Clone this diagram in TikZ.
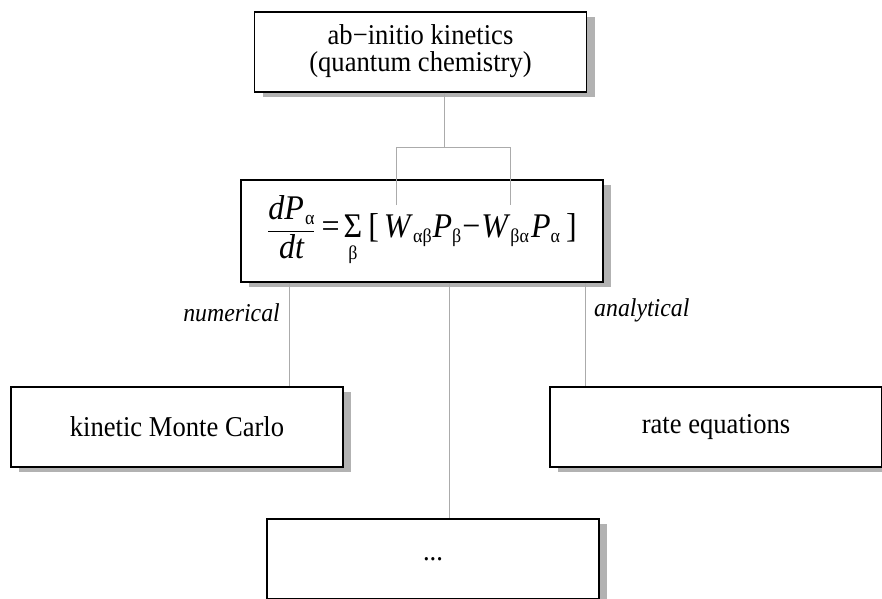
\documentclass[tikz,border=0pt]{standalone}
\usepackage{amsmath}
\usepackage{graphicx}
\usepackage{fontspec}
\setmainfont{Liberation Serif}
\usetikzlibrary{shadows}
\newcommand\vs[1]{\scalebox{1}[1.08]{#1}}
\newcommand\sbs[1]{\raisebox{-4pt}{\fontsize{18}{18}\selectfont\upshape #1}}
\begin{document}
\begin{tikzpicture}[x=1pt,y=-1pt,
  box/.style={draw=black, line width=1.3pt, fill=white, minimum width=332pt, minimum height=80pt, inner sep=0pt,
    font=\fontsize{26.6}{24.5}\selectfont, align=center,
    drop shadow={shadow xshift=8pt, shadow yshift=-5pt, fill=black!30, opacity=1}},
  eqbox/.style={box, line width=2pt, minimum width=362pt, minimum height=102pt, font=\fontsize{32}{32}\selectfont},
  link/.style={draw=black!33, line width=1pt},
  lab/.style={font=\fontsize{23.8}{26}\selectfont\itshape, inner sep=0pt}]
\useasboundingbox (0,0) rectangle (882,598);
\begin{scope}
\clip (0,0) rectangle (882,598);
\node[box] (top) at (420.5,52) {\vs{\begin{tabular}{@{}c@{}}ab−initio kinetics\\(quantum chemistry)\end{tabular}}};
\node[eqbox] (eq) at (422,231) {\raisebox{-5pt}{\vs{$\displaystyle
  \frac{\text{\itshape dP\kern1pt\sbs{α}}}{\text{\itshape dt}}$\hspace{6pt}=\hspace{4pt}$\mathop{\text{Σ}}\limits_{\raisebox{-5pt}{\fontsize{18}{18}\selectfont β}}$\hspace{6pt}[\hspace{5pt}\textit{W}\sbs{αβ}\kern1pt\textit{P}\sbs{β}\kern1pt−\kern1pt\textit{W}\sbs{βα}\kern2pt\textit{P}\sbs{α}\hspace{6pt}]}}};
\node[box] (kmc) at (177,427) {\vs{kinetic Monte Carlo}};
\node[box] (rate) at (716,427) {\vs{rate equations}};
\node[box] (more) at (433,559) {\vs{...}};
\end{scope}
\coordinate (j) at (444,147);
\coordinate (jl) at (396,147);
\coordinate (jr) at (510,147);
\coordinate (el) at (396,205);
\coordinate (er) at (510,205);
\coordinate (xn) at (289,0);
\coordinate (xc) at (449,0);
\coordinate (xa) at (585,0);
\draw[link] (top.south -| j) -- (j);
\draw[link] (el) -- (jl) -- (jr) -- (er);
\draw[link] (eq.south -| xn) -- (kmc.north -| xn);
\draw[link] (eq.south -| xc) -- (more.north -| xc);
\draw[link] (eq.south -| xa) -- (rate.north -| xa);
\node[lab, anchor=east] (num) at (280,313) {\vs{numerical}};
\node[lab, anchor=west] (ana) at (594,310) {\vs{analytical}};
\end{tikzpicture}
\end{document}
